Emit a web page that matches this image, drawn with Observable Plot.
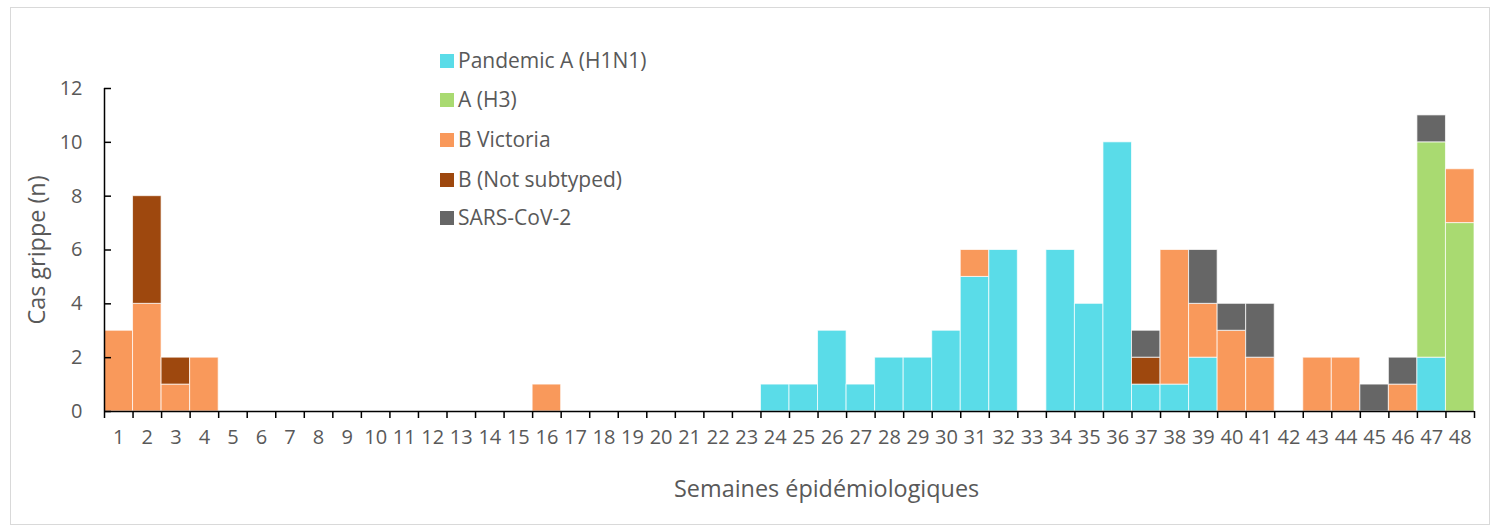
<!DOCTYPE html>
<html><head><meta charset="utf-8">
<script src="https://cdn.jsdelivr.net/npm/d3@7"></script>
<script src="https://cdn.jsdelivr.net/npm/@observablehq/plot@0.6"></script>
<style>
body{margin:0;background:#fff;font-family:"Open Sans",sans-serif;}
#frame{position:absolute;left:10px;top:7px;width:1480px;height:518px;border:1px solid #d9d9d9;box-sizing:border-box;}
#chart{position:absolute;left:0;top:0;}
#legend{position:absolute;left:440px;top:0;}
.item{position:absolute;left:0;white-space:nowrap;font-size:21px;color:#595959;line-height:20px;}
.sw{position:absolute;left:0;top:3px;width:14px;height:14px;}
.lt{position:absolute;left:18px;top:-1px;}
</style></head>
<body>
<div id="frame"></div>
<div id="chart"></div>
<div id="legend"></div>
<script>
const weeks = [1,2,3,4,5,6,7,8,9,10,11,12,13,14,15,16,17,18,19,20,21,22,23,24,25,26,27,28,29,30,31,32,33,34,35,36,37,38,39,40,41,42,43,44,45,46,47,48];
const seriesNames = ["Pandemic A (H1N1)", "A (H3)", "B Victoria", "B (Not subtyped)", "SARS-CoV-2"];
const seriesColors = ["#5adce8", "#a9da71", "#f9995b", "#9e480e", "#666666"];
const h1n1 = [0,0,0,0,0,0,0,0,0,0,0,0,0,0,0,0,0,0,0,0,0,0,0,1,1,3,1,2,2,3,5,6,0,6,4,10,1,1,2,0,0,0,0,0,0,0,2,0];
const h3   = [0,0,0,0,0,0,0,0,0,0,0,0,0,0,0,0,0,0,0,0,0,0,0,0,0,0,0,0,0,0,0,0,0,0,0,0,0,0,0,0,0,0,0,0,0,0,8,7];
const bvic = [3,4,1,2,0,0,0,0,0,0,0,0,0,0,0,1,0,0,0,0,0,0,0,0,0,0,0,0,0,0,1,0,0,0,0,0,0,5,2,3,2,0,2,2,0,1,0,2];
const bns  = [0,4,1,0,0,0,0,0,0,0,0,0,0,0,0,0,0,0,0,0,0,0,0,0,0,0,0,0,0,0,0,0,0,0,0,0,1,0,0,0,0,0,0,0,0,0,0,0];
const sars = [0,0,0,0,0,0,0,0,0,0,0,0,0,0,0,0,0,0,0,0,0,0,0,0,0,0,0,0,0,0,0,0,0,0,0,0,1,0,2,1,2,0,0,0,1,1,1,0];
const yTicks = [0,2,4,6,8,10,12];
const xBoundaries = [0.5].concat(weeks.map(w => w + 0.5));

const values = [h1n1, h3, bvic, bns, sars];
const rows = [];
weeks.forEach((w, i) => {
  let base = 0;
  values.forEach((arr, s) => {
    const v = arr[i];
    if (v > 0) rows.push({week: w, series: seriesNames[s], y1: base, y2: base + v});
    base += v;
  });
});

const font = "'Open Sans', sans-serif";
const chart = Plot.plot({
  width: 1497,
  height: 530,
  marginLeft: 104,
  marginRight: 23,
  marginTop: 88,
  marginBottom: 119,
  style: {fontFamily: font, fontSize: "20px", color: "#595959", background: "transparent"},
  x: {type: "linear", domain: [0.5, 48.5]},
  y: {domain: [0, 12]},
  color: {domain: seriesNames, range: seriesColors},
  marks: [
    Plot.rect(rows, {x1: d => d.week - 0.5, x2: d => d.week + 0.5, y1: "y1", y2: "y2", fill: "series", stroke: "#fff", strokeWidth: 1, strokeOpacity: 0.7}),
    Plot.axisY({ticks: yTicks, tickSize: 0, tickPadding: 22, tickFormat: d => String(d), label: null, fill: "#595959", fontSize: 20}),
    Plot.axisY({ticks: yTicks, tickSize: 7, dx: 7, tickFormat: () => "", label: null, stroke: "#000", strokeWidth: 1.5}),
    Plot.axisX({ticks: weeks, tickSize: 0, tickPadding: 18, tickFormat: d => String(d), label: null, fill: "#595959", fontSize: 20}),
    Plot.axisX({ticks: xBoundaries, tickSize: 7, tickFormat: () => "", label: null, stroke: "#000", strokeWidth: 1.5}),
    Plot.ruleX([0.5], {y1: 0, y2: 12, stroke: "#000", strokeWidth: 1.5}),
    Plot.ruleY([0], {stroke: "#000", strokeWidth: 1.5}),
    Plot.text(["Semaines épidémiologiques"], {frameAnchor: "bottom", x: 25.8, dy: 78, fontSize: 23.4, fill: "#595959", lineAnchor: "middle"}),
    Plot.text(["Cas grippe (n)"], {frameAnchor: "left", y: 6.0, dx: -67, rotate: -90, fontSize: 23.4, fill: "#595959", textAnchor: "middle", lineAnchor: "middle"})
  ]
});
document.getElementById("chart").appendChild(chart);

const legend = document.getElementById("legend");
const legendTops = [51, 90, 130, 170, 208];
seriesNames.forEach((name, i) => {
  const item = document.createElement("div");
  item.className = "item";
  item.style.top = legendTops[i] + "px";
  const sw = document.createElement("span");
  sw.className = "sw";
  sw.style.background = seriesColors[i];
  const t = document.createElement("span");
  t.className = "lt";
  t.textContent = name;
  item.appendChild(sw);
  item.appendChild(t);
  legend.appendChild(item);
});
</script>
</body></html>
